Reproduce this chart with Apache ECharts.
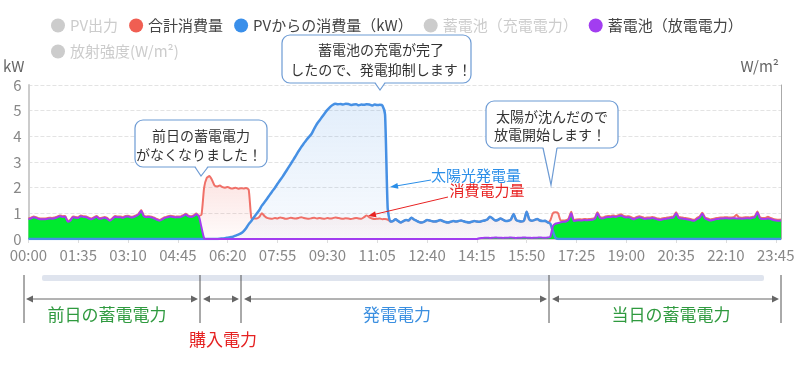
<!DOCTYPE html>
<html><head><meta charset="utf-8">
<script src="https://cdn.jsdelivr.net/npm/echarts@6/dist/echarts.min.js"></script>
<style>html,body{margin:0;padding:0;background:#fff}#c{width:800px;height:370px}</style>
</head><body><div id="c"></div>
<script>
const FONT = "'Noto Sans CJK JP','Noto Sans',sans-serif";

// categories: 5-minute slots 00:00 .. 23:55
const times = [];
for (let m = 0; m < 1440; m += 5) {
  times.push(String(Math.floor(m / 60)).padStart(2, '0') + ':' + String(m % 60).padStart(2, '0'));
}

const legendNames = ['PV出力', '合計消費量', 'PVからの消費量（kW）', '蓄電池（充電電力）', '蓄電池（放電電力）', '放射強度(W/m²)'];

// ---- 蓄電池（放電電力） ----
const dischargeNight = [
  0.78,0.8,0.85,0.82,0.78,0.77,0.77,0.78,0.8,0.79,
  0.81,0.84,0.89,0.86,0.87,0.67,0.72,0.85,0.83,0.82,
  0.89,0.86,0.85,0.8,0.77,0.82,0.87,0.79,0.8,0.83,
  0.79,0.71,0.78,0.87,0.85,0.85,0.82,0.87,0.88,0.84,
  0.85,0.89,0.95,1.1,0.88,0.85,0.86,0.84,0.8,0.75,
  0.71,0.76,0.82,0.85,0.88,0.86,0.84,0.85,0.85,0.9,
  0.95,0.88,0.86,0.89,0.96,0.88
];
const dischargeFall = [0.45, 0.03];
const dischargeDay = [
  0,0,0,0,0,0,0,0,0,0, 0,0,0,0,0,0,0,0,0,0,
  0,0,0,0,0,0,0,0,0,0, 0,0,0,0,0,0,0,0,0,0,
  0,0,0,0,0,0,0,0,0,0, 0,0,0,0,0,0,0,0,0,0,
  0,0,0,0,0,0,0,0,0,0, 0,0,0,0,0,0,0,0,0,0,
  0,0,0,0,0,0,0,0,0,0, 0,0,0,0,0,0,0,0,0,0,
  0,0,0,0
];
const dischargeTrickle = [
  0.03,0.04,0.05,0.05,0.04,0.05,0.06,0.05,0.05,0.04,
  0.05,0.05,0.06,0.05,0.04,0.05,0.05,0.06,0.05,0.05,
  0.04,0.05,0.05,0.06,0.05,0.05,0.06
];
const dischargeRise = [0.08,0.5,0.6,0.62,0.65,0.67,0.68,0.75,1.0];
const dischargeEvening = [
  0.7,0.72,0.73,0.72,0.74,0.73,0.74,0.75,0.78,1.0,
  0.82,0.8,0.84,0.86,0.85,0.88,0.86,0.89,0.92,0.86,
  0.84,0.85,0.8,0.77,0.82,0.85,0.82,0.78,0.8,0.8,
  0.82,0.79,0.76,0.74,0.77,0.78,0.8,0.82,0.84,1.0,
  0.82,0.8,0.78,0.77,0.75,0.72,0.71,0.78,0.84,0.98,
  0.8,0.76,0.72,0.74,0.77,0.78,0.8,0.8,0.81,0.8,
  0.8,0.81,0.8,0.8,0.79,0.8,0.81,0.8,0.82,0.85,
  1.03,0.8,0.78,0.78,0.8,0.78,0.74,0.72,0.71,0.72
];

// ---- PVからの消費量 ----
const pvNight = [
  0,0,0,0,0,0,0,0,0,0, 0,0,0,0,0,0,0,0,0,0,
  0,0,0,0,0,0,0,0,0,0, 0,0,0,0,0,0,0,0,0,0,
  0,0,0,0,0,0,0,0,0,0, 0,0,0,0,0,0,0,0,0,0,
  0,0,0,0,0,0,0,0,0,0, 0,0,0
];
const pvDawn = [0.01,0.02,0.03,0.05,0.07,0.09,0.13,0.17,0.22,0.3,0.42,0.58,0.7,0.85,0.98,1.12];
const pvRamp = [
  1.3,1.43,1.57,1.72,1.86,2.0,2.15,2.3,2.44,2.6,
  2.76,2.92,3.08,3.25,3.42,3.58,3.72,3.86,3.98,4.1,
  4.3,4.48,4.62,4.76,4.9,5.03,5.14,5.22,5.27
];
const pvPlateau = [5.25,5.26,5.24,5.27,5.26,5.22,5.24,5.25,5.21,5.24,5.23,5.25,5.24,5.2,5.24,5.22,5.23,5.2];
const pvCut = [4.85, 1.2];
const pvAfternoon = [
  0.68,0.7,0.77,0.7,0.64,0.7,0.74,0.72,0.83,0.76,
  0.71,0.66,0.64,0.68,0.74,0.72,0.69,0.68,0.7,0.74,
  0.7,0.66,0.64,0.67,0.7,0.68,0.7,0.72,0.69,0.66,
  0.64,0.67,0.7,0.68,0.67,0.7,0.72,0.76,0.87,0.8,
  0.72,0.74,0.8,0.75,0.7,0.71,0.76,0.97,0.74,0.7,
  0.68,0.72,1.06,0.76,0.71,0.74,0.78,0.72,0.7,0.71,
  0.65,0.6
];
const pvDusk = [0.3, 0.05];
const pvEvening = [
  0,0,0,0,0,0,0,0,0,0, 0,0,0,0,0,0,0,0,0,0,
  0,0,0,0,0,0,0,0,0,0, 0,0,0,0,0,0,0,0,0,0,
  0,0,0,0,0,0,0,0,0,0, 0,0,0,0,0,0,0,0,0,0,
  0,0,0,0,0,0,0,0,0,0, 0,0,0,0,0,0,0,0,0,0,
  0,0,0,0,0,0
];

// ---- 合計消費量 ----
const totalNight = [
  0.81,0.83,0.88,0.85,0.81,0.8,0.8,0.81,0.83,0.82,
  0.84,0.87,0.92,0.89,0.9,0.7,0.75,0.88,0.86,0.85,
  0.92,0.89,0.88,0.83,0.8,0.85,0.9,0.82,0.83,0.86,
  0.82,0.74,0.81,0.9,0.88,0.88,0.85,0.9,0.91,0.87,
  0.88,0.92,0.98,1.13,0.91,0.88,0.89,0.87,0.83,0.78,
  0.74,0.79,0.85,0.88,0.91,0.89,0.87,0.88,0.88,0.93,
  0.98,0.91,0.89,0.92,0.99,0.91
];
const totalPurchase = [0.95,2.0,2.38,2.45,2.3,2.08,2.05,2.08,2.02,2.0,2.03,1.98,1.97,2.0,1.96,1.98,1.97,1.99,1.92,0.83];
const totalMorning = [
  0.8,0.8,0.86,1.0,0.9,0.82,0.8,0.79,0.82,0.8,
  0.84,0.82,0.79,0.8,0.83,0.81,0.8,0.82,0.85,0.82,
  0.8,0.79,0.81,0.83,0.8,0.82,0.8,0.79,0.82,0.8,
  0.81,0.84,0.82,0.8,0.79,0.81,0.8,0.78,0.8,0.82,
  0.8,0.79,0.85,0.92,0.84,0.8,0.78,0.79,0.8,0.77,
  0.78,0.76
];
const totalAfternoon = [
  0.68,0.7,0.77,0.7,0.64,0.7,0.74,0.72,0.83,0.76,
  0.71,0.66,0.64,0.68,0.74,0.72,0.69,0.68,0.7,0.74,
  0.7,0.66,0.64,0.67,0.7,0.68,0.7,0.72,0.69,0.66,
  0.64,0.67,0.7,0.68,0.67,0.7,0.72,0.76,0.87,0.8,
  0.72,0.74,0.8,0.75,0.7,0.71,0.76,0.97,0.74,0.7,
  0.68,0.72,1.06,0.76,0.71,0.74,0.78,0.72,0.7,0.71,
  0.65
];
const totalDusk = [0.72,1.0,1.04,1.0,0.72,0.72,0.73,0.8,1.06];
const totalEvening = [
  0.74,0.76,0.77,0.76,0.78,0.77,0.78,0.79,0.82,1.04,
  0.86,0.84,0.88,0.9,0.89,0.92,0.9,0.93,0.96,0.9,
  0.88,0.89,0.84,0.81,0.86,0.89,0.86,0.82,0.84,0.84,
  0.86,0.83,0.8,0.78,0.81,0.82,0.84,0.86,0.88,1.04,
  0.86,0.84,0.82,0.81,0.79,0.76,0.75,0.82,0.88,1.02,
  0.84,0.8,0.76,0.78,0.81,0.82,0.84,0.84,0.85,0.84,
  0.84,0.85,0.94,0.84,0.83,0.84,0.85,0.84,0.86,0.89,
  1.07,0.84,0.82,0.82,0.87,0.82,0.78,0.76,0.75,0.76
];

const discharge = [].concat(dischargeNight, dischargeFall, dischargeDay, dischargeTrickle, dischargeRise, dischargeEvening);
const pvUse = [].concat(pvNight, pvDawn, pvRamp, pvPlateau, pvCut, pvAfternoon, pvDusk, pvEvening);
const total = [].concat(totalNight, totalPurchase, totalMorning, totalAfternoon, totalDusk, totalEvening);

// ---- annotations (layout only) ----
const G = [];
const BORDER = '#6d9bd4';
function box(x, y, w, h, bl, tx, ty, br) {
  G.push({type:'rect', z:100, shape:{x:x, y:y, width:w, height:h, r:8}, style:{fill:'#fff', stroke:BORDER, lineWidth:1.2}});
  G.push({type:'polygon', z:101, shape:{points:[[bl, y+h-1.5],[tx, ty],[br, y+h-1.5]]}, style:{fill:'#fff'}});
  G.push({type:'polyline', z:102, shape:{points:[[bl, y+h],[tx, ty],[br, y+h]]}, style:{stroke:BORDER, lineWidth:1.2, fill:null}});
}
function txt(s, x, y, color, size) {
  G.push({type:'text', z:103, x:x, y:y, style:{text:s, fill:color, fontSize:size, fontFamily:FONT, align:'center', verticalAlign:'middle'}});
}
function seg(x1, y1, x2, y2, c, w) {
  G.push({type:'line', z:100, shape:{x1:x1, y1:y1, x2:x2, y2:y2}, style:{stroke:c, lineWidth:w}});
}
function head(pts, c) {
  G.push({type:'polygon', z:100, shape:{points:pts}, style:{fill:c}});
}

box(135, 120, 132, 47, 195, 201, 176, 208);
txt('前日の蓄電電力', 201, 136, '#333', 14);
txt('がなくなりました！', 199, 155, '#333', 14);

box(282, 35, 189, 48, 375, 380, 90, 385);
txt('蓄電池の充電が完了', 381, 50, '#333', 14);
txt('したので、発電抑制します！', 381, 70, '#333', 14);

box(486, 101, 132, 47, 543, 551, 185, 557);
txt('太陽が沈んだので', 552, 117, '#333', 14);
txt('放電開始します！', 550, 135, '#333', 14);

txt('太陽光発電量', 476, 175, '#2a8ee8', 15);
txt('消費電力量', 487, 190, '#e82222', 15);
seg(431, 180, 396, 186, '#2a8ee8', 1);
head([[390, 187], [398.4, 188.8], [397.4, 182.9]], '#2a8ee8');
seg(448, 197, 374, 214.5, '#e82222', 1);
head([[368, 216], [376.5, 217.2], [375.1, 211.2]], '#e82222');

// slider-like bar
G.push({type:'rect', z:90, shape:{x:42, y:275, width:722, height:6, r:2}, style:{fill:'#dfe4ee'}});
[24, 200, 241, 549, 781].forEach(function (x) { seg(x, 275, x, 323, '#555', 1); });
[[26, 198], [203, 239], [244, 547], [552, 779]].forEach(function (p) {
  seg(p[0] + 3, 299, p[1] - 3, 299, '#666', 1);
  head([[p[0], 299], [p[0] + 7, 295.5], [p[0] + 7, 302.5]], '#666');
  head([[p[1], 299], [p[1] - 7, 295.5], [p[1] - 7, 302.5]], '#666');
});
txt('前日の蓄電電力', 107, 315, '#2f9a3f', 17);
txt('購入電力', 223, 340, '#e52222', 17);
txt('発電電力', 397, 315, '#3b8fe0', 17);
txt('当日の蓄電電力', 671, 315, '#2f9a3f', 17);

const chart = echarts.init(document.getElementById('c'));
chart.setOption({
  animation: false,
  textStyle: {fontFamily: FONT},
  legend: {
    left: 46, top: 13, width: 720, itemGap: 11, itemWidth: 14, itemHeight: 14, icon: 'circle',
    textStyle: {fontSize: 15, color: '#444'}, inactiveColor: '#ccc',
    data: legendNames,
    selected: {'PV出力': false, '蓄電池（充電電力）': false, '放射強度(W/m²)': false}
  },
  grid: {left: 24, right: 19, top: 85, bottom: 131, containLabel: false},
  xAxis: {
    type: 'category', data: times, boundaryGap: false,
    axisLine: {show: true, lineStyle: {color: '#ccc'}},
    axisTick: {show: true, interval: 18, length: 4, lineStyle: {color: '#ddd'}},
    axisLabel: {interval: 18, fontSize: 15, color: '#888', margin: 9},
    splitLine: {show: false}
  },
  yAxis: [
    {
      type: 'value', min: 0, max: 6, interval: 1,
      name: 'kW', nameGap: 11,
      nameTextStyle: {fontSize: 15, color: '#666', align: 'right', padding: [0, 4, 0, 0]},
      axisLine: {show: true, lineStyle: {color: '#ccc', width: 2}},
      axisTick: {show: false},
      axisLabel: {fontSize: 15, color: '#888', margin: 7},
      splitLine: {show: true, lineStyle: {type: 'dashed', color: '#e3e3e3'}}
    },
    {
      type: 'value', position: 'right', min: 0, max: 1000,
      name: 'W/m²', nameGap: 11,
      nameTextStyle: {fontSize: 15, color: '#666', align: 'right', padding: [0, 2, 0, 0]},
      axisLine: {show: true, lineStyle: {color: '#aaa'}},
      axisTick: {show: false}, axisLabel: {show: false}, splitLine: {show: false}
    }
  ],
  series: [
    {name: 'PV出力', type: 'line', data: [], color: '#91cc75', showSymbol: false},
    {
      name: '合計消費量', type: 'line', data: total, color: '#f05e52', showSymbol: false, smooth: 0.2,
      lineStyle: {color: '#f07068', width: 2},
      areaStyle: {color: new echarts.graphic.LinearGradient(0, 0, 0, 1, [
        {offset: 0, color: 'rgba(240,112,104,0.28)'}, {offset: 1, color: 'rgba(240,112,104,0.04)'}])}
    },
    {
      name: 'PVからの消費量（kW）', type: 'line', data: pvUse, color: '#3a8fea', showSymbol: false, smooth: 0.2,
      lineStyle: {color: '#4690e4', width: 2.5},
      areaStyle: {color: new echarts.graphic.LinearGradient(0, 0, 0, 1, [
        {offset: 0, color: 'rgba(70,144,228,0.22)'}, {offset: 1, color: 'rgba(70,144,228,0.05)'}])}
    },
    {name: '蓄電池（充電電力）', type: 'line', data: [], color: '#fac858', showSymbol: false},
    {
      name: '蓄電池（放電電力）', type: 'line', data: discharge, color: '#a23df0', showSymbol: false, smooth: 0.2,
      lineStyle: {color: '#a23df0', width: 2},
      areaStyle: {color: '#00ea2e', opacity: 1}
    },
    {name: '放射強度(W/m²)', type: 'line', yAxisIndex: 1, data: [], color: '#73c0de', showSymbol: false}
  ],
  graphic: G
});
</script></body></html>
